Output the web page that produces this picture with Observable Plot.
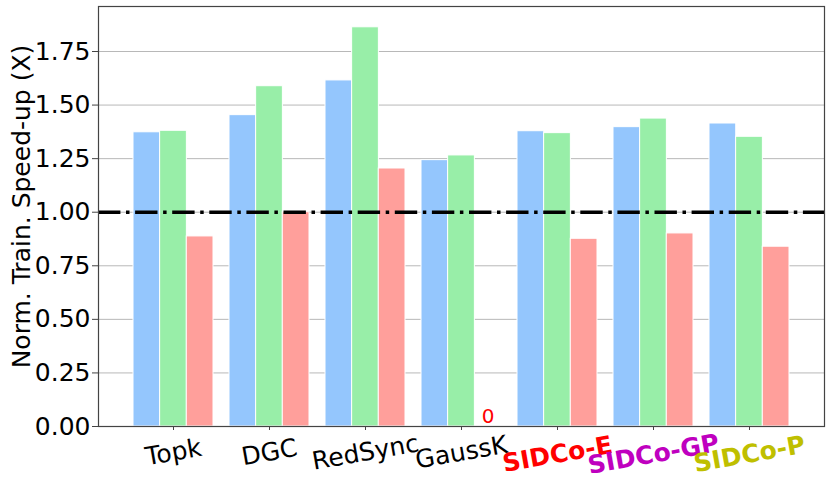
<!DOCTYPE html>
<html><head><meta charset="utf-8">
<script src="https://cdn.jsdelivr.net/npm/d3@7"></script>
<script src="https://cdn.jsdelivr.net/npm/@observablehq/plot@0.6"></script>
<style>body{margin:0;background:#fff} svg{display:block}</style>
</head><body><div id="chart"></div>
<script>
// ---- data ----
const groups = ["Topk", "DGC", "RedSync", "GaussK", "SIDCo-E", "SIDCo-GP", "SIDCo-P"];
const series = ["Series A", "Series B", "Series C"];
const valuesA = [1.373, 1.453, 1.615, 1.243, 1.378, 1.397, 1.414];
const valuesB = [1.380, 1.588, 1.863, 1.265, 1.369, 1.437, 1.352];
const valuesC = [0.887, 1.000, 1.204, 0, 0.876, 0.901, 0.839];
const yTicks = [0, 0.25, 0.5, 0.75, 1, 1.25, 1.5, 1.75];
const referenceLine = [1];
const yLabel = "Norm. Train. Speed-up (X)";
const labelColors = ["black", "black", "black", "black", "#ff0000", "#bf00bf", "#bfbf00"];
const labelBold = [false, false, false, false, true, true, true];
const seriesColors = ["#94c6fd", "#98eea8", "#ff9f9b"];

// ---- table ----
const seriesValues = [valuesA, valuesB, valuesC];
const rows = [];
series.forEach((s, si) => groups.forEach((g, gi) => rows.push({group: g, series: s, si, value: seriesValues[si][gi]})));
const labels = groups.map((g, i) => ({group: g, color: labelColors[i], bold: labelBold[i]}));

// ---- layout ----
const W = 831, H = 487, mL = 98, mR = 7, mT = 6, mB = 61;
const padIn = 0.171, padOut = 0.352;
const bw = d3.scaleBand().domain(groups).range([mL, W - mR]).paddingInner(padIn).paddingOuter(padOut).bandwidth();
const barW = bw / series.length;

const barMarks = series.map((s, si) => Plot.barY(rows.filter(d => d.si === si), {
  x: "group", y: "value",
  fill: seriesColors[si], stroke: "white", strokeWidth: 1,
  insetLeft: si * barW, insetRight: (series.length - 1 - si) * barW
}));

const zeroMarks = series.map((s, si) => Plot.text(rows.filter(d => d.si === si && d.value === 0), {
  x: "group", y: "value", text: d => String(d.value),
  dx: (si - (series.length - 1) / 2) * barW, dy: -4, lineAnchor: "bottom",
  fill: "#ff0000", fontSize: 20
}));

const chart = Plot.plot({
  width: W, height: H,
  marginLeft: mL, marginRight: mR, marginTop: mT, marginBottom: mB,
  style: {fontFamily: "DejaVu Sans", background: "white", color: "black"},
  x: {type: "band", domain: groups, paddingInner: padIn, paddingOuter: padOut, axis: null},
  y: {domain: [0, 1.96], axis: null},
  color: {type: "identity"},
  marks: [
    Plot.gridY(yTicks, {stroke: "#b8b8b8", strokeOpacity: 1, strokeWidth: 1}),
    ...barMarks,
    ...zeroMarks,
    Plot.ruleY(referenceLine, {stroke: "black", strokeWidth: 3.5, strokeDasharray: "22.4,5.6,3.5,5.6"}),
    Plot.frame({stroke: "#444", strokeWidth: 1.2}),
    Plot.axisY({ticks: yTicks, tickFormat: d3.format(".2f"), fontSize: 25, tickSize: 6, tickPadding: 2, stroke: "#444", fill: "black", label: null}),
    Plot.axisX({ticks: groups, tickSize: 4, tickFormat: () => "", stroke: "#444", label: null}),
    Plot.text(labels.filter(d => !d.bold), {x: "group", text: "group", fill: "color", frameAnchor: "bottom", dy: 26, rotate: -10, fontSize: 25, lineAnchor: "middle"}),
    Plot.text(labels.filter(d => d.bold), {x: "group", text: "group", fill: "color", frameAnchor: "bottom", dy: 28, rotate: -10, fontSize: 25, fontWeight: "bold", lineAnchor: "middle"}),
    Plot.text([yLabel], {text: d => d, frameAnchor: "left", textAnchor: "middle", lineAnchor: "middle", rotate: -90, dx: -77, dy: -10, fontSize: 25, fill: "black"})
  ]
});
document.getElementById("chart").appendChild(chart);
</script>
</body></html>
